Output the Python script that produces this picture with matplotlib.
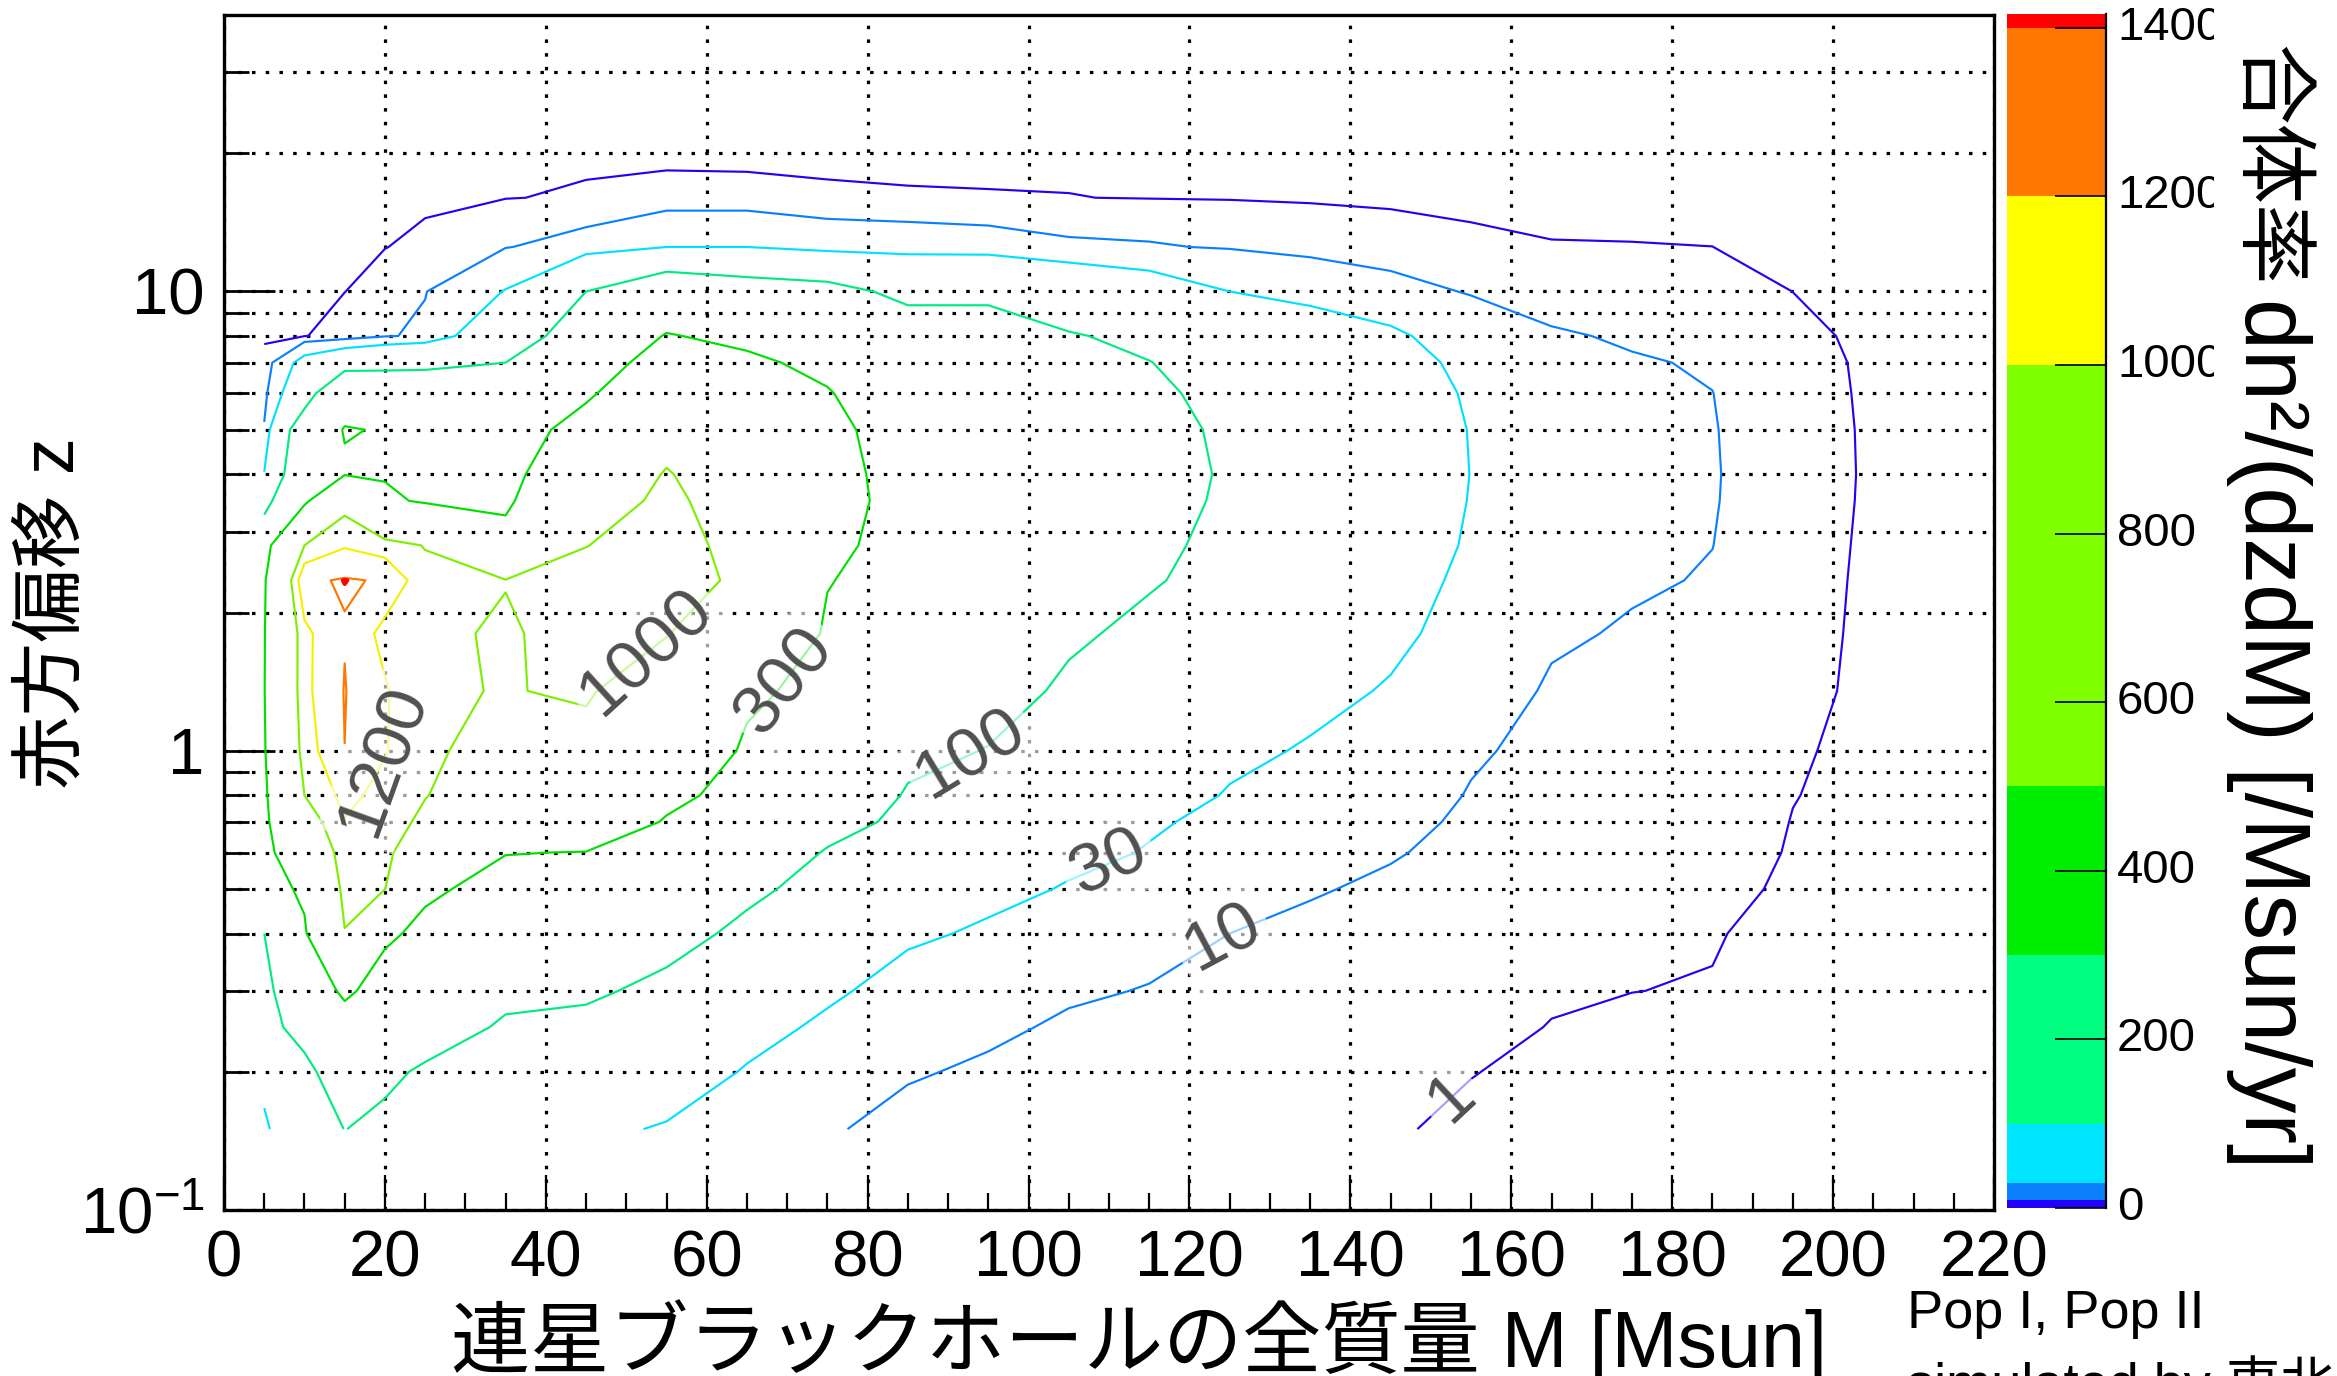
import numpy as np
import matplotlib
matplotlib.use("Agg")
import matplotlib.pyplot as plt
from matplotlib.ticker import FixedLocator, FixedFormatter, NullFormatter
from matplotlib.transforms import Bbox, TransformedBbox, blended_transform_factory

plt.rcParams['font.family'] = ['Liberation Sans', 'Noto Sans CJK JP']
plt.rcParams['mathtext.fontset'] = 'custom'
plt.rcParams['mathtext.rm'] = 'Liberation Sans'
plt.rcParams['mathtext.it'] = 'Liberation Sans:italic'
plt.rcParams['mathtext.bf'] = 'Liberation Sans:bold'

# ---------------- data ----------------
# mass columns [Msun]
mass_bins = [5, 10, 15, 20, 25, 35, 45, 55, 65, 75, 85, 95, 105, 115, 125, 135, 145,
             155, 165, 175, 185, 195, 205, 215]
# redshift rows
redshift_bins = [0.15, 0.2, 0.25, 0.3, 0.4, 0.5, 0.6, 0.7, 0.8, 1.0, 1.35, 1.8,
                 2.35, 2.8, 3.5, 4.0, 5.0, 6.0, 7.0, 8.0, 10.0, 12.5, 16.0, 20.0, 28.0]

# merger rate dn^2/(dz dM) for each mass column, listed along the redshift rows
rate_m005 = [25, 40, 55, 75, 100, 150, 195, 220, 240, 275, 290, 285, 260, 160, 70, 31, 11, 6, 2.5, 0.3, 0.02, 0, 0, 0, 0]
rate_m010 = [60, 66, 150, 180, 260, 360, 600, 850, 1000, 1100, 1150, 1150, 1370, 1000, 220, 170, 150, 60, 40, 0.8, 0.1, 0, 0, 0, 0]
rate_m015 = [101, 180, 230, 330, 990, 1080, 1140, 1190, 1260, 1399, 1408, 1390, 1416, 1180, 900, 280, 310, 200, 60, 3, 0.95, 0.1, 0, 0, 0]
rate_m020 = [85, 115, 190, 230, 330, 1005, 1080, 1100, 1130, 1215, 1220, 1130, 1385, 1090, 360, 275, 290, 180, 70, 9, 3, 0.9, 0.05, 0, 0]
rate_m025 = [60, 90, 140, 190, 260, 330, 700, 950, 1010, 1030, 1040, 1050, 1060, 990, 260, 240, 220, 160, 80, 12, 9.5, 2, 0.2, 0, 0]
rate_m035 = [40, 60, 90, 120, 180, 240, 305, 600, 800, 930, 985, 970, 1010, 420, 235, 200, 170, 130, 100, 60, 31, 9.5, 0.8, 0.05, 0]
rate_m045 = [35, 55, 85, 110, 180, 250, 295, 450, 700, 900, 1040, 1100, 1080, 995, 800, 600, 400, 260, 180, 140, 100, 15, 1.6, 0, 0]
rate_m055 = [28, 45, 70, 85, 125, 190, 250, 285, 350, 500, 750, 1020, 1100, 1110, 1080, 1030, 800, 550, 400, 310, 150, 30, 2, 0.3, 0]
rate_m065 = [18, 28, 40, 55, 85, 115, 150, 190, 230, 270, 340, 600, 950, 900, 800, 700, 550, 420, 330, 260, 130, 30, 2, 0.2, 0]
rate_m075 = [11, 18, 25, 35, 55, 75, 95, 125, 150, 190, 235, 270, 310, 350, 380, 370, 350, 310, 260, 210, 120, 20, 1.5, 0.2, 0]
rate_m085 = [7, 11, 15, 19, 35, 50, 65, 85, 95, 115, 150, 180, 205, 220, 228, 225, 210, 190, 160, 130, 85, 18, 1.3, 0.1, 0]
rate_m095 = [5, 8.5, 12, 16, 26, 38, 50, 62, 75, 98, 125, 150, 165, 172, 175, 172, 165, 150, 135, 120, 90, 16, 1.2, 0.08, 0]
rate_m105 = [3.5, 5.5, 8.5, 11.5, 18, 28, 37, 46, 55, 70, 90, 110, 125, 132, 137, 138, 135, 125, 112, 104, 60, 12, 1.1, 0.05, 0]
rate_m115 = [2.5, 4, 6, 9.5, 14, 20, 28.5, 33, 40, 52, 68, 85, 106, 112, 117, 118, 114, 108, 101, 88, 45, 11, 0.8, 0.03, 0]
rate_m125 = [1.8, 3, 4.5, 6.5, 10, 14, 19, 24, 28.5, 35, 50, 65, 78, 86, 93, 95, 93, 88, 80, 70, 30, 9, 0.6, 0.02, 0]
rate_m135 = [1.4, 2.2, 3.2, 4.6, 7.5, 11, 14.5, 18, 22, 28, 37, 46, 54, 59, 63, 65, 64, 60, 54, 45, 22, 6, 0.3, 0.01, 0]
rate_m145 = [1.15, 1.8, 2.6, 3.6, 5.5, 8, 11, 13.5, 16, 21, 28, 36, 42, 46, 48, 49, 48, 45, 40, 34, 15, 3.5, 0.15, 0.01, 0]
rate_m155 = [0.7, 1.05, 1.6, 2.3, 3.6, 5, 6.5, 8, 9.3, 11.5, 15.5, 20, 24, 27, 29, 29.6, 29, 27, 24, 19, 9, 1.8, 0.1, 0, 0]
rate_m165 = [0.45, 0.65, 0.93, 1.25, 2.0, 2.8, 3.6, 4.5, 5.3, 6.8, 8.8, 11.5, 14, 16, 17.5, 18, 17.5, 16, 13.5, 11.5, 4, 1.15, 0.05, 0, 0]
rate_m175 = [0.3, 0.45, 0.65, 1.02, 1.5, 2.1, 2.8, 3.4, 4.1, 5.3, 7, 9, 11.3, 12.5, 13.5, 13.8, 13.5, 12.3, 11, 8.5, 3.5, 1.1, 0.05, 0, 0]
rate_m185 = [0.2, 0.3, 0.55, 0.9, 1.15, 1.8, 2.5, 3.0, 3.7, 4.8, 6.3, 8.0, 9.3, 10.1, 10.6, 10.7, 10.5, 10.1, 9, 7, 3, 1.01, 0.05, 0, 0]
rate_m195 = [0.05, 0.08, 0.12, 0.2, 0.35, 0.55, 0.75, 0.9, 1.1, 1.4, 2.1, 2.5, 2.9, 3.3, 4.0, 4.3, 4.0, 3.4, 2.9, 2.1, 0.98, 0.2, 0, 0, 0]
rate_m205 = [0, 0, 0, 0, 0, 0, 0, 0.02, 0.05, 0.08, 0.1, 0.1, 0.1, 0.1, 0.1, 0.1, 0.1, 0.1, 0.1, 0.05, 0.02, 0, 0, 0, 0]
rate_m215 = [0, 0, 0, 0, 0, 0, 0, 0, 0, 0, 0, 0, 0, 0, 0, 0, 0, 0, 0, 0, 0, 0, 0, 0, 0]

rate_columns = [rate_m005, rate_m010, rate_m015, rate_m020, rate_m025, rate_m035,
                rate_m045, rate_m055, rate_m065, rate_m075, rate_m085, rate_m095,
                rate_m105, rate_m115, rate_m125, rate_m135, rate_m145, rate_m155,
                rate_m165, rate_m175, rate_m185, rate_m195, rate_m205, rate_m215]

contour_levels = [1, 10, 30, 100, 300, 1000, 1200, 1400, 1414]
contour_colors = ['#2a00f0', '#0a80ff', '#00e1ff', '#00ec80', '#00e000',
                  '#7cf000', '#f2f200', '#ff7700', '#ff0000']
label_levels = [1, 10, 30, 100, 300, 1000, 1200]
label_spots = [(152, 0.18), (125, 0.37), (110, 0.57), (93, 0.97),
               (69, 1.45), (53, 1.6), (20, 0.95)]

palette_edges = [0, 1, 10, 30, 100, 300, 500, 1000, 1200, 1400, 1416]
palette_colors = ['#3300cc', '#2200ff', '#0a80ff', '#00e5ff', '#00ff80',
                  '#00ee00', '#80ff00', '#ffff00', '#ff7700', '#ff0000']
palette_ticks = [0, 200, 400, 600, 800, 1000, 1200, 1400]

x_ticks = [0, 20, 40, 60, 80, 100, 120, 140, 160, 180, 200, 220]
x_minor = list(range(0, 221, 5))
y_major = [0.1, 1, 10]
y_major_labels = ['$10^{-1}$', '1', '10']
y_minor = [0.2, 0.3, 0.4, 0.5, 0.6, 0.7, 0.8, 0.9, 2, 3, 4, 5, 6, 7, 8, 9, 20, 30]

# ---------------- figure ----------------
W, H = 2337, 1376
fig = plt.figure(figsize=(W / 100, H / 100), dpi=100)


def fx(px):
    return px / W


def fy(py):
    return 1 - py / H


ax = fig.add_axes([fx(224), fy(1210), (1994 - 224) / W, (1210 - 15) / H])
ax.set_yscale('log')
ax.set_xlim(0, 220)
ax.set_ylim(0.1, 40)

rate = np.array(rate_columns, dtype=float).T
widths = [1.55] * (len(contour_levels) - 1) + [3.0]
cs = ax.contour(mass_bins, redshift_bins, rate, levels=contour_levels,
                colors=contour_colors, linewidths=widths, zorder=3)

labels = cs.clabel(levels=label_levels, manual=label_spots, inline=False,
                   fontsize=50, colors='#505050', fmt='%d', zorder=6)
for t in labels:
    t.set_fontfamily('Liberation Sans')
    t.set_bbox(dict(boxstyle='square,pad=0.12', facecolor='white',
                    edgecolor='none', alpha=0.62))

# axes / ticks / grid
ax.xaxis.set_major_locator(FixedLocator(x_ticks))
ax.xaxis.set_major_formatter(FixedFormatter([str(v) for v in x_ticks]))
ax.xaxis.set_minor_locator(FixedLocator(x_minor))
ax.yaxis.set_major_locator(FixedLocator(y_major))
ax.yaxis.set_major_formatter(FixedFormatter(y_major_labels))
ax.yaxis.set_minor_locator(FixedLocator(y_minor))
ax.yaxis.set_minor_formatter(NullFormatter())

ax.tick_params(axis='x', which='major', direction='in', length=25, width=1.6,
               labelsize=47, pad=14, top=False, bottom=True)
ax.tick_params(axis='x', which='minor', direction='in', length=12.5, width=1.6,
               top=False, bottom=True)
ax.tick_params(axis='y', which='major', direction='in', length=37, width=2,
               labelsize=47, pad=14, right=False, left=True)
ax.tick_params(axis='y', which='minor', direction='in', length=18, width=2,
               right=False, left=True)

grid_style = dict(color='black', linestyle=(0, (1.1, 3.2)), linewidth=2.3)
ax.xaxis.grid(True, which='major', **grid_style)
ax.yaxis.grid(True, which='both', **grid_style)
ax.set_axisbelow(True)
for s in ax.spines.values():
    s.set_linewidth(2.4)

# ---------------- palette (colour bar) ----------------
cax = fig.add_axes([fx(2007), fy(1208), (2106 - 2007) / W, (1208 - 14.3) / H])
cax.set_xlim(0, 1)
cax.set_ylim(0, palette_edges[-1])
cax.bar(0.5, np.diff(palette_edges), bottom=palette_edges[:-1], width=1.0,
        color=palette_colors, linewidth=0)
for side in ['left', 'top', 'bottom']:
    cax.spines[side].set_visible(False)
cax.spines['right'].set_linewidth(1.6)
cax.set_xticks([])
cax.yaxis.set_ticks_position('right')
cax.set_yticks(palette_ticks)
cax.tick_params(axis='y', direction='in', length=37, width=1.2,
                labelright=False, labelleft=False, right=True, left=False)

clip = TransformedBbox(Bbox([[0, 0], [2214 / W, 1]]), fig.transFigure)
ptrans = blended_transform_factory(fig.transFigure, cax.transData)
for v in palette_ticks:
    t = fig.text(fx(2117), v, str(v), transform=ptrans, ha='left', va='center',
                 fontsize=34, family='Liberation Sans')
    t.set_clip_box(clip)
    t.set_clip_on(True)

# ---------------- titles ----------------
fig.text(fx(1139), fy(1367), '連星ブラックホールの全質量 M [Msun]',
         fontsize=57, ha='center', va='baseline')
fig.text(fx(54), fy(613), '赤方偏移 z', rotation=90, fontsize=53,
         ha='center', va='center')
fig.text(fx(2245), fy(45), '合体率', rotation=-90, rotation_mode='anchor',
         ha='left', va='baseline', fontsize=58, family=['Noto Sans CJK JP'])
fig.text(fx(2245), fy(298), 'dn²/(dzdM) [/Msun/yr]', rotation=-90,
         rotation_mode='anchor', ha='left', va='baseline', fontsize=66,
         family=['Liberation Sans'])

fig.text(fx(1907), fy(1328), 'Pop I, Pop II', fontsize=39, ha='left', va='baseline')
fig.text(fx(1907), fy(1401), 'simulated by 東北', fontsize=39, ha='left', va='baseline')

fig.savefig('out.png', dpi=100)
